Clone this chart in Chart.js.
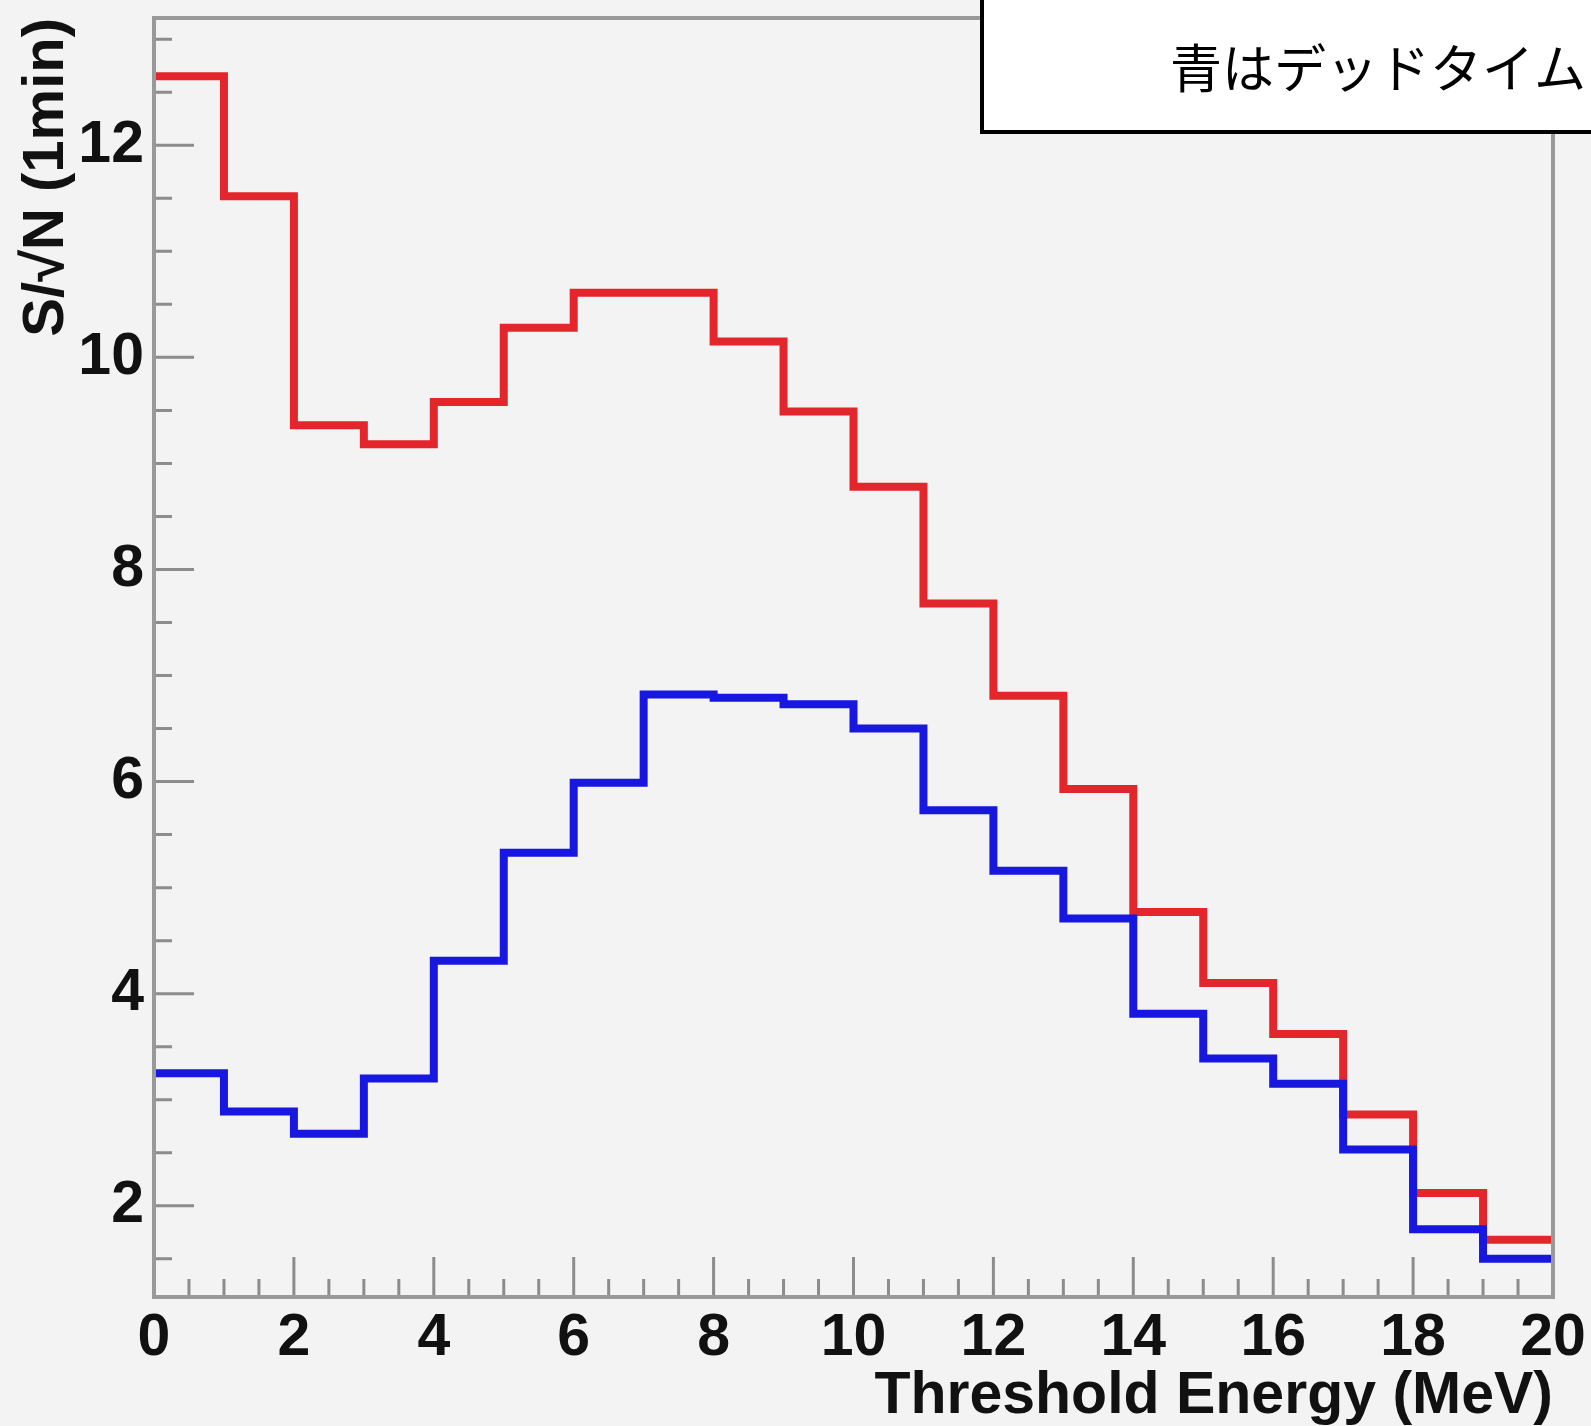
<!DOCTYPE html>
<html>
<head>
<meta charset="utf-8">
<script src="https://cdn.jsdelivr.net/npm/chart.js@4.4.0/dist/chart.umd.min.js"></script>
<style>
  html, body { margin: 0; padding: 0; background: #f3f3f3; }
  #wrap { position: relative; width: 1591px; height: 1426px; }
</style>
</head>
<body>
<div id="wrap"><canvas id="snChart"></canvas></div>
<script>
// histogram bins (MeV), one value per bin [edge, edge+1)
const binEdges = [0, 1, 2, 3, 4, 5, 6, 7, 8, 9, 10, 11, 12, 13, 14, 15, 16, 17, 18, 19, 20];
const redValues = [12.65, 11.52, 9.36, 9.18, 9.58, 10.28, 10.61, 10.61, 10.15, 9.49,
                   8.78, 7.68, 6.81, 5.93, 4.77, 4.10, 3.62, 2.86, 2.12, 1.68];
const blueValues = [3.25, 2.89, 2.68, 3.20, 4.31, 5.33, 5.99, 6.82, 6.79, 6.73,
                    6.50, 5.73, 5.16, 4.71, 3.81, 3.39, 3.15, 2.53, 1.78, 1.50];
const xTickValues = [0, 2, 4, 6, 8, 10, 12, 14, 16, 18, 20];
const yTickValues = [2, 4, 6, 8, 10, 12];
const xTitle = 'Threshold Energy (MeV)';
const yTitle = 'S/\u221AN (1min)';
const noteText = '青はデッドタイム';

// histogram outline: left edge of every bin, plus the closing right edge
function toSteps(values) {
    const pts = values.map((v, i) => ({ x: binEdges[i], y: v }));
    pts.push({ x: binEdges[values.length], y: values[values.length - 1] });
    return pts;
}

const tickFont = { family: 'Liberation Sans', size: 59, weight: 'bold' };

// ROOT-style frame, inward ticks and the note box
const rootFrame = {
    id: 'rootFrame',
    afterDatasetsDraw(chart) {
        const { ctx, chartArea: a, scales: { x, y } } = chart;
        ctx.save();
        ctx.strokeStyle = '#8c8c8c';
        ctx.lineWidth = 3;
        ctx.beginPath();
        for (let v = 0; v <= 20; v += 0.5) {
            const px = x.getPixelForValue(v);
            const len = v % 2 === 0 ? 40 : 18;
            ctx.moveTo(px, a.bottom);
            ctx.lineTo(px, a.bottom - len);
        }
        for (let v = 1.5; v <= 13; v += 0.5) {
            const py = y.getPixelForValue(v);
            const len = v % 2 === 0 ? 40 : 18;
            ctx.moveTo(a.left, py);
            ctx.lineTo(a.left + len, py);
        }
        ctx.stroke();

        ctx.strokeStyle = '#999999';
        ctx.lineWidth = 4;
        ctx.strokeRect(a.left, a.top, a.right - a.left, a.bottom - a.top);

        // note box in the top right corner
        ctx.fillStyle = '#ffffff';
        ctx.fillRect(982, -4, 640, 136);
        ctx.strokeStyle = '#000000';
        ctx.lineWidth = 4;
        ctx.strokeRect(982, -4, 640, 136);
        ctx.fillStyle = '#000000';
        ctx.font = '400 52px "Noto Sans CJK JP"';
        ctx.textBaseline = 'middle';
        ctx.textAlign = 'left';
        ctx.fillText(noteText, 1170, 68);
        ctx.restore();
    }
};

const chart = new Chart(document.getElementById('snChart'), {
    type: 'line',
    data: {
        datasets: [
            {
                label: 'red',
                data: toSteps(redValues),
                borderColor: '#e3262b',
                borderWidth: 8,
                stepped: true,
                pointRadius: 0,
                fill: false,
                order: 1
            },
            {
                label: 'blue',
                data: toSteps(blueValues),
                borderColor: '#1717e0',
                borderWidth: 8,
                stepped: true,
                pointRadius: 0,
                fill: false,
                order: 0
            }
        ]
    },
    options: {
        responsive: true,
        maintainAspectRatio: false,
        animation: false,
        layout: { padding: { top: 18, right: 38, bottom: 0, left: 0 } },
        plugins: {
            legend: { display: false },
            tooltip: { enabled: false }
        },
        scales: {
            x: {
                type: 'linear',
                min: 0,
                max: 20,
                afterBuildTicks: s => { s.ticks = xTickValues.map(v => ({ value: v })); },
                afterFit: s => { s.height = 129; s.paddingLeft = 0; s.paddingRight = 0; },
                grid: { display: false, drawTicks: false },
                border: { display: false },
                ticks: { font: tickFont, color: '#111', padding: 6, maxRotation: 0, autoSkip: false },
                title: {
                    display: true,
                    text: xTitle,
                    align: 'end',
                    color: '#111',
                    font: { family: 'Liberation Sans', size: 59, weight: 'bold', lineHeight: 1.0 },
                    padding: { top: 0, bottom: 0 }
                }
            },
            y: {
                min: 1.14,
                max: 13.2,
                afterBuildTicks: s => { s.ticks = yTickValues.map(v => ({ value: v })); },
                afterFit: s => { s.width = 154; s.paddingTop = 0; s.paddingBottom = 0; },
                grid: { display: false, drawTicks: false },
                border: { display: false },
                ticks: { font: tickFont, color: '#111', padding: 10 },
                title: {
                    display: true,
                    text: yTitle,
                    align: 'end',
                    color: '#111',
                    font: { family: 'Liberation Sans', size: 58, weight: 'bold' },
                    padding: { top: 12, bottom: 0 }
                }
            }
        }
    },
    plugins: [rootFrame]
});
</script>
</body>
</html>
